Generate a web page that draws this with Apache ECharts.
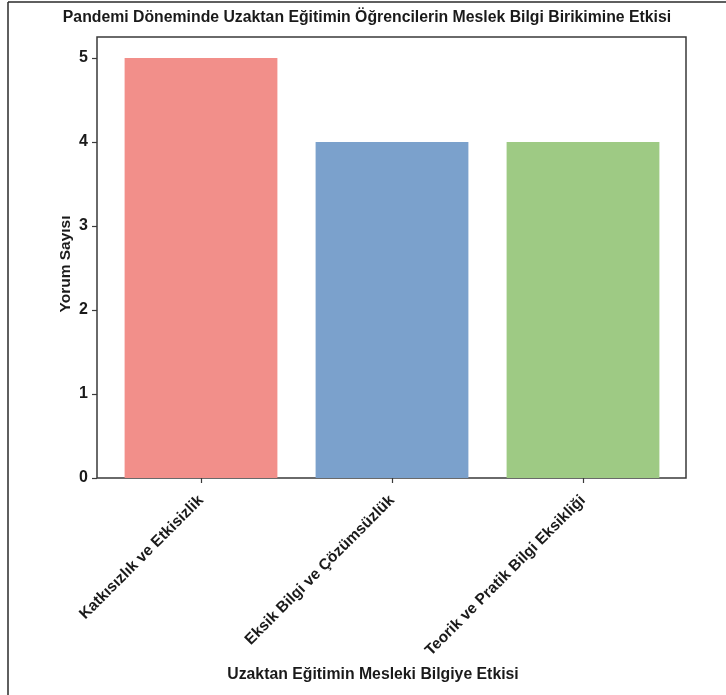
<!DOCTYPE html>
<html>
<head>
<meta charset="utf-8">
<script src="https://cdn.jsdelivr.net/npm/echarts@6/dist/echarts.min.js"></script>
<style>
html,body{margin:0;padding:0;background:#fff;}
#chart{width:726px;height:695px;}
</style>
</head>
<body>
<div id="chart"></div>
<script>
const titleText = 'Pandemi Döneminde Uzaktan Eğitimin Öğrencilerin Meslek Bilgi Birikimine Etkisi';
const xAxisName = 'Uzaktan Eğitimin Mesleki Bilgiye Etkisi';
const yAxisName = 'Yorum Sayısı';
const categories = ['Katkısızlık ve Etkisizlik', 'Eksik Bilgi ve Çözümsüzlük', 'Teorik ve Pratik Bilgi Eksikliği'];
const values = [5, 4, 4];
const barColors = ['#F28F8A', '#7BA1CC', '#9ECA84'];

const FONT = '"Liberation Sans", Arial, Helvetica, sans-serif';
const chart = echarts.init(document.getElementById('chart'), null, {renderer: 'canvas'});

chart.setOption({
  backgroundColor: '#fff',
  animation: false,
  grid: [
    {left: 97, top: 37, width: 589, height: 441, show: true, borderColor: '#3a3a3a', borderWidth: 1.5, backgroundColor: 'transparent'},
    {left: 105.5, top: 37, width: 573, height: 441}
  ],
  xAxis: [
    {gridIndex: 0, type: 'value', min: 0, max: 1, show: false},
    {gridIndex: 1, type: 'category', data: categories,
      axisLine: {show: false},
      axisTick: {show: true, alignWithLabel: true, length: 5, lineStyle: {color: '#3a3a3a', width: 1.2}},
      axisLabel: {rotate: 45, margin: 20, fontFamily: FONT, fontWeight: 'bold', fontSize: 15.5, color: '#1a1a1a', interval: 0},
      splitLine: {show: false}
    }
  ],
  yAxis: [
    {gridIndex: 0, type: 'value', min: 0, max: 5.25, interval: 1,
      axisLine: {show: false},
      axisTick: {show: true, length: 5, lineStyle: {color: '#3a3a3a', width: 1.2}},
      axisLabel: {showMaxLabel: false, margin: 9, fontFamily: FONT, fontWeight: 'bold', fontSize: 16, color: '#1a1a1a',
        formatter: v => (Math.abs(v - Math.round(v)) < 1e-9 ? String(Math.round(v)) : '')},
      splitLine: {show: false}
    },
    {gridIndex: 1, type: 'value', min: 0, max: 5.25, show: false}
  ],
  series: [{
    type: 'bar',
    xAxisIndex: 1,
    yAxisIndex: 1,
    barWidth: '80%',
    data: values.map((v, i) => ({value: v, itemStyle: {color: barColors[i]}})),
    z: 1
  }],
  graphic: [
    {type: 'line', shape: {x1: 8, y1: 2, x2: 726, y2: 2}, style: {stroke: '#2a2a2a', lineWidth: 1.5}},
    {type: 'line', shape: {x1: 8, y1: 2, x2: 8, y2: 695}, style: {stroke: '#2a2a2a', lineWidth: 1.5}},
    {type: 'text', x: 367, y: 18, style: {text: titleText, font: 'bold 15.8px ' + FONT, fill: '#1a1a1a', textAlign: 'center', textVerticalAlign: 'middle'}},
    {type: 'text', x: 373, y: 675, style: {text: xAxisName, font: 'bold 15.8px ' + FONT, fill: '#1a1a1a', textAlign: 'center', textVerticalAlign: 'middle'}},
    {type: 'text', x: 66, y: 264, rotation: Math.PI / 2, style: {text: yAxisName, font: 'bold 15.5px ' + FONT, fill: '#1a1a1a', textAlign: 'center', textVerticalAlign: 'middle'}}
  ]
});
</script>
</body>
</html>
